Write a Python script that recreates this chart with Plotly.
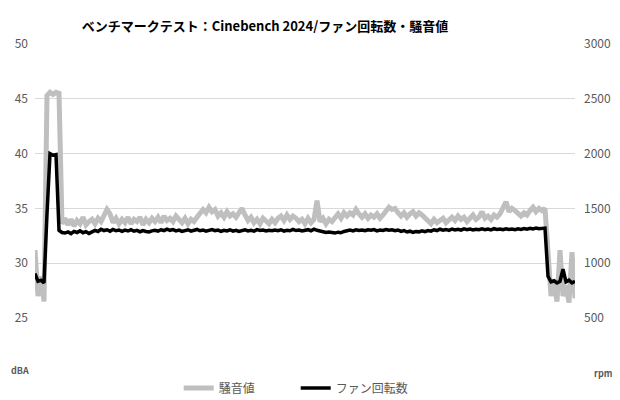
import plotly.graph_objects as go

# 騒音値 (dBA), sampled at equal intervals
noise_dba = [
    31.2, 27.0, 28.8, 26.5, 45.3, 45.6, 45.4, 45.6, 45.5, 33.6,
    34.1, 33.5, 34.0, 33.4, 33.9, 33.6, 34.2, 33.5, 33.8, 34.0,
    33.6, 34.1, 33.8, 34.3, 34.9, 34.5, 33.7, 34.1, 33.6, 34.0,
    33.7, 34.2, 33.6, 34.0, 33.8, 34.2, 33.5, 34.0, 33.7, 34.1,
    33.8, 34.2, 33.7, 34.3, 33.9, 34.1, 33.8, 34.3, 34.0, 33.7,
    34.1, 33.6, 34.0, 33.8, 34.2, 34.6, 34.9, 34.6, 35.1, 34.7,
    34.9, 34.3, 34.6, 34.2, 34.7, 34.3, 34.5, 34.2, 34.6, 35.0,
    34.4, 33.9, 34.2, 33.7, 34.0, 33.6, 34.1, 33.8, 33.6, 34.0,
    33.7, 34.1, 34.3, 33.9, 34.4, 34.0, 34.3, 34.1, 33.8, 34.0,
    33.6, 34.1, 33.7, 34.0, 35.7, 33.8, 34.1, 33.6, 34.0, 33.8,
    34.2, 34.5, 34.1, 34.6, 34.3, 34.6, 34.4, 34.9, 34.5, 34.2,
    34.5, 34.1, 34.4, 34.2, 34.5, 34.1, 34.4, 34.8, 35.1, 34.9,
    35.0, 34.6, 34.3, 34.6, 34.2, 34.5, 34.7, 34.3, 34.6, 34.4,
    34.1, 33.8, 33.6, 34.0, 33.7, 33.9, 34.1, 33.7, 34.0, 34.2,
    33.9, 34.3, 34.0, 34.2, 33.8, 34.1, 34.4, 34.0, 34.2, 34.7,
    34.1, 34.3, 34.0, 34.4, 34.2, 34.5, 35.0, 35.6, 34.7, 35.0,
    34.8, 34.5, 34.3, 34.6, 34.4, 34.8, 35.1, 34.7, 35.0, 34.8,
    35.0, 31.0, 27.0, 28.5, 26.5, 31.2, 27.0, 28.0, 26.4, 31.0,
    26.8,
]

# ファン回転数 (rpm)
fan_rpm = [
    905, 835, 845, 820, 1450, 2000, 1985, 1990, 1300, 1280,
    1275, 1285, 1270, 1290, 1280, 1295, 1278, 1288, 1272, 1285,
    1300, 1290, 1310, 1298, 1305, 1292, 1308, 1296, 1303, 1290,
    1302, 1294, 1306, 1292, 1300, 1287, 1298, 1290, 1285, 1295,
    1300, 1292, 1305, 1298, 1310, 1300, 1306, 1295, 1302, 1290,
    1298, 1305, 1293, 1300, 1308, 1296, 1303, 1292, 1300, 1306,
    1296, 1302, 1290, 1300, 1295, 1305, 1293, 1300, 1290, 1298,
    1304, 1295, 1300, 1292, 1306, 1298, 1302, 1294, 1300, 1296,
    1303, 1297, 1305, 1293, 1300, 1296, 1308, 1298, 1302, 1295,
    1300, 1306, 1296, 1310, 1300, 1292, 1288, 1280, 1285, 1278,
    1275, 1283, 1278, 1290, 1296, 1302, 1294, 1305, 1298, 1303,
    1296, 1305, 1300, 1307, 1295, 1302, 1298, 1306, 1300, 1304,
    1296, 1303, 1290, 1298, 1285, 1292, 1282, 1290, 1286, 1295,
    1288, 1297, 1292, 1305, 1298, 1310, 1302, 1308, 1300, 1312,
    1304, 1310, 1302, 1314, 1306, 1312, 1303, 1310, 1305, 1313,
    1306, 1311, 1304, 1315, 1308, 1312, 1305, 1313, 1307, 1311,
    1306, 1314, 1308, 1316, 1310, 1318, 1312, 1320, 1314, 1318,
    1320, 880, 830, 840, 820, 835, 945, 830, 845, 820,
    835,
]

samples = list(range(len(noise_dba)))

left_ticks = [25, 30, 35, 40, 45, 50]
right_ticks = [500, 1000, 1500, 2000, 2500, 3000]

title_text = "ベンチマークテスト：Cinebench 2024/ファン回転数・騒音値"
noise_name = "騒音値"
fan_name = "ファン回転数"

FONT = "Noto Sans CJK JP, Noto Sans, sans-serif"
TICK_COLOR = "#595959"

fig = go.Figure()
fig.add_trace(go.Scatter(
    x=samples, y=noise_dba, name=noise_name, mode="lines",
    line=dict(color="#BFBFBF", width=5), yaxis="y",
))
fig.add_trace(go.Scatter(
    x=samples, y=fan_rpm, name=fan_name, mode="lines",
    line=dict(color="#000000", width=3.5), yaxis="y2",
))

fig.update_layout(
    width=620, height=400,
    margin=dict(l=35, r=45, t=44, b=82, autoexpand=False),
    paper_bgcolor="white", plot_bgcolor="white",
    font=dict(family=FONT, size=12, color=TICK_COLOR),
    title=dict(text="<b>" + title_text + "</b>", x=265 / 620, xanchor="center",
               y=1 - 26 / 400, yanchor="middle",
               font=dict(family=FONT, size=13, color="#000000")),
    xaxis=dict(range=[0, len(samples) - 1], showticklabels=False, showgrid=False,
               zeroline=False, showline=False, fixedrange=True),
    yaxis=dict(range=[25, 50], tickvals=left_ticks, showgrid=True, gridcolor="#D9D9D9",
               gridwidth=1, zeroline=False, showline=False, ticks="",
               tickfont=dict(size=12, color=TICK_COLOR), ticklabelstandoff=6),
    yaxis2=dict(range=[500, 3000], tickvals=right_ticks, overlaying="y", side="right",
                showgrid=False, zeroline=False, showline=False, ticks="",
                tickfont=dict(size=12, color=TICK_COLOR), ticklabelstandoff=8),
    legend=dict(orientation="h", x=165 / 620, xanchor="left", y=(400 - 388) / 400,
                yanchor="middle", yref="container",
                font=dict(family=FONT, size=12, color=TICK_COLOR),
                bgcolor="rgba(0,0,0,0)", itemwidth=30,
                entrywidth=72, entrywidthmode="pixels"),
    showlegend=True,
    annotations=[
        dict(text="<b>dBA</b>", xref="paper", yref="paper", x=-26 / 540,
             y=-(370 - 318) / 274, xanchor="left", yanchor="middle", showarrow=False,
             font=dict(family=FONT, size=9, color=TICK_COLOR)),
        dict(text="<b>rpm</b>", xref="paper", yref="paper", x=(614 - 35) / 540,
             y=-(373 - 318) / 274, xanchor="right", yanchor="middle", showarrow=False,
             font=dict(family=FONT, size=9, color=TICK_COLOR)),
    ],
)

fig.write_html(
    "out.html",
    config={"displayModeBar": False},
    post_script="document.body.style.margin='0';document.body.style.overflow='hidden';",
)
